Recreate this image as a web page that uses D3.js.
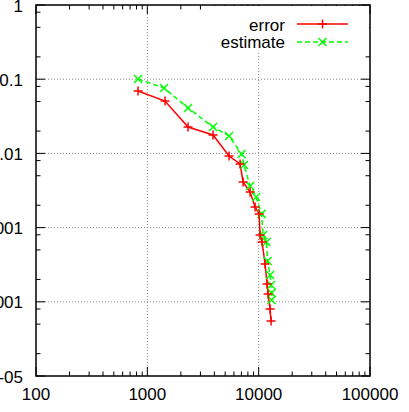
<!DOCTYPE html>
<html><head><meta charset="utf-8">
<script src="https://cdn.jsdelivr.net/npm/d3@7"></script>
<style>body{margin:0;background:#fff}svg{display:block}text{font-family:"Liberation Sans",Arial,sans-serif}</style>
</head><body><div id="chart"></div>
<script>
const errorX = [825,1442,2321,3892,5420,6806,7244,8373,9287,10084,10294,10728,11415,11899,12150,12660,12925];
const errorY = [0.0693,0.0508,0.0227,0.0177,0.00923,0.0072,0.00412,0.00302,0.0019,0.00153,0.000794,0.00064,0.000323,0.000174,0.000127,0.00008,0.000055];
const estimateX = [825,1413,2321,3892,5420,7020,7390,8373,9480,10620,10950,11780,12020,12660,12925,13060,13060];
const estimateY = [0.1007,0.0761,0.0409,0.0227,0.0172,0.00982,0.00698,0.00364,0.00259,0.00153,0.000794,0.00064,0.000355,0.00023,0.000168,0.000131,0.000106];
const xTickVals = [100,1000,10000,100000];
const xTickLabels = ["100","1000","10000","100000"];
const yTickVals = [1,0.1,0.01,0.001,0.0001,0.00001];
const yTickLabels = ["1","0.1","0.01","0.001","0.0001","1e-05"];
const seriesNames = ["error","estimate"];

const W=409,H=412, L=36,R=370,T=5,B=376;
const svg=d3.select("#chart").append("svg").attr("width",W).attr("height",H);
const x=d3.scaleLog().domain([100,100000]).range([L,R]);
const y=d3.scaleLog().domain([0.00001,1]).range([B,T]);
const fs=17;

// grid
const g=svg.append("g");
xTickVals.slice(1,-1).forEach(v=>g.append("line").attr("x1",x(v)).attr("x2",x(v)).attr("y1",T).attr("y2",B)
  .attr("stroke","#888").attr("stroke-width",1).attr("stroke-dasharray","1,2"));
yTickVals.slice(1,-1).forEach(v=>g.append("line").attr("x1",L).attr("x2",R).attr("y1",y(v)).attr("y2",y(v))
  .attr("stroke","#888").attr("stroke-width",1).attr("stroke-dasharray","1,2"));

// ticks
const tk=svg.append("g").attr("stroke","#000").attr("stroke-width",1);
const xMinor=[]; [100,1000,10000].forEach(d=>{for(let k=2;k<=9;k++)xMinor.push(d*k);});
const yMinor=[]; [0.00001,0.0001,0.001,0.01,0.1].forEach(d=>{[2,5,8].forEach(k=>yMinor.push(d*k));});
xTickVals.forEach(v=>{tk.append("line").attr("x1",x(v)).attr("x2",x(v)).attr("y1",B).attr("y2",B-9);
  tk.append("line").attr("x1",x(v)).attr("x2",x(v)).attr("y1",T).attr("y2",T+9);});
xMinor.forEach(v=>{tk.append("line").attr("x1",x(v)).attr("x2",x(v)).attr("y1",B).attr("y2",B-4.5);
  tk.append("line").attr("x1",x(v)).attr("x2",x(v)).attr("y1",T).attr("y2",T+4.5);});
yTickVals.forEach(v=>{tk.append("line").attr("x1",L).attr("x2",L+9).attr("y1",y(v)).attr("y2",y(v));
  tk.append("line").attr("x1",R).attr("x2",R-9).attr("y1",y(v)).attr("y2",y(v));});
yMinor.forEach(v=>{tk.append("line").attr("x1",L).attr("x2",L+4.5).attr("y1",y(v)).attr("y2",y(v));
  tk.append("line").attr("x1",R).attr("x2",R-4.5).attr("y1",y(v)).attr("y2",y(v));});

// labels
xTickVals.forEach((v,i)=>svg.append("text").attr("x",x(v)).attr("y",400).attr("text-anchor","middle")
  .attr("font-size",fs).text(xTickLabels[i]));
yTickVals.forEach((v,i)=>svg.append("text").attr("x",23).attr("y",y(v)+6.5).attr("text-anchor","end")
  .attr("font-size",fs).text(yTickLabels[i]));

// legend background
svg.append("rect").attr("x",205).attr("y",T+1).attr("width",R-205-1).attr("height",46).attr("fill","#fff");

// series
const line=d3.line().x(d=>x(d[0])).y(d=>y(d[1]));
const errData=errorX.map((v,i)=>[v,errorY[i]]);
const estData=estimateX.map((v,i)=>[v,estimateY[i]]);
svg.append("path").datum(estData).attr("d",line).attr("fill","none").attr("stroke","#00ff00").attr("stroke-width",1.5).attr("stroke-dasharray","5,3");
svg.append("path").datum(errData).attr("d",line).attr("fill","none").attr("stroke","#ff0000").attr("stroke-width",1.5);
function plus(px,py){svg.append("path").attr("d",`M${px-4.5},${py}H${px+4.5}M${px},${py-4.5}V${py+4.5}`).attr("stroke","#ff0000").attr("stroke-width",1.5);}
function cross(px,py){svg.append("path").attr("d",`M${px-4},${py-4}L${px+4},${py+4}M${px-4},${py+4}L${px+4},${py-4}`).attr("stroke","#00ff00").attr("stroke-width",1.5);}
estData.forEach(d=>cross(x(d[0]),y(d[1])));
errData.forEach(d=>plus(x(d[0]),y(d[1])));

// legend
svg.append("text").attr("x",285).attr("y",31).attr("text-anchor","end").attr("font-size",fs).text(seriesNames[0]);
svg.append("text").attr("x",285).attr("y",48).attr("text-anchor","end").attr("font-size",fs).text(seriesNames[1]);
svg.append("line").attr("x1",297).attr("x2",348).attr("y1",24).attr("y2",24).attr("stroke","#ff0000").attr("stroke-width",1.5);
plus(322.5,24);
svg.append("line").attr("x1",297).attr("x2",348).attr("y1",42).attr("y2",42).attr("stroke","#00ff00").attr("stroke-width",1.5).attr("stroke-dasharray","5,3");
cross(322.5,42);

// frame
svg.append("rect").attr("x",L).attr("y",T).attr("width",R-L).attr("height",B-T).attr("fill","none").attr("stroke","#000").attr("stroke-width",1.5);
</script></body></html>
